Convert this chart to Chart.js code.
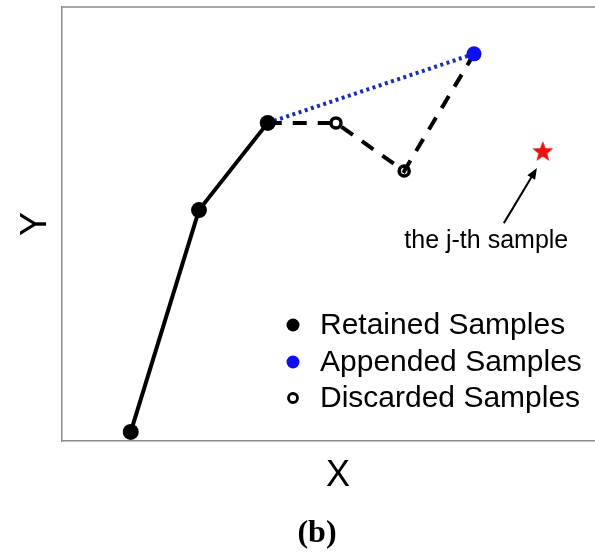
<!DOCTYPE html>
<html>
<head>
<meta charset="utf-8">
<script src="https://cdn.jsdelivr.net/npm/chart.js@4/dist/chart.umd.min.js"></script>
<style>
  html, body { margin: 0; padding: 0; background: #fff; }
  #wrap { width: 595px; height: 554px; }
</style>
</head>
<body>
<div id="wrap"><canvas id="chart-b" width="595" height="554"></canvas></div>
<script>
// sample positions (data units, axes run 0..10)
const retainedX = [1.29, 2.57, 3.86];
const retainedY = [0.21, 5.32, 7.33];
const discardedX = [5.14, 6.42];
const discardedY = [7.33, 6.22];
const appendedX = [7.73];
const appendedY = [8.92];
const jthX = [9.02];
const jthY = [6.66];
const arrowFrom = [8.29, 5.02];
const arrowTo = [8.91, 6.29];
const noteAt = [7.96, 4.45];
const noteText = 'the j-th sample';
const legendLabels = ['Retained Samples', 'Appended Samples', 'Discarded Samples'];

const FONT = "'Liberation Sans', Arial, Helvetica, sans-serif";

const pts = (xs, ys) => xs.map((x, i) => ({ x, y: ys[i] }));
const lastRetained = { x: retainedX[retainedX.length - 1], y: retainedY[retainedY.length - 1] };
const appendedPt = { x: appendedX[0], y: appendedY[0] };

// filled red star used as the point style of the j-th sample
function starImage(r) {
  const c = document.createElement('canvas');
  const s = Math.ceil(r * 2 + 2);
  c.width = s; c.height = s;
  const g = c.getContext('2d');
  g.fillStyle = '#f01010';
  g.beginPath();
  for (let i = 0; i < 10; i++) {
    const rad = i % 2 === 0 ? r : r * 0.42;
    const a = -Math.PI / 2 + i * Math.PI / 5;
    const px = s / 2 + rad * Math.cos(a), py = s / 2 + rad * Math.sin(a);
    if (i === 0) g.moveTo(px, py); else g.lineTo(px, py);
  }
  g.closePath();
  g.fill();
  return c;
}

const extras = {
  id: 'extras',
  afterDatasetsDraw(chart) {
    const { ctx, chartArea, scales: { x, y } } = chart;
    ctx.save();
    // top frame line (right side of the box is cut off)
    ctx.strokeStyle = '#8a8a8a';
    ctx.lineWidth = 1.5;
    ctx.beginPath();
    ctx.moveTo(chartArea.left, chartArea.top);
    ctx.lineTo(chart.width, chartArea.top);
    ctx.stroke();

    // arrow to the j-th sample
    const x0 = x.getPixelForValue(arrowFrom[0]), y0 = y.getPixelForValue(arrowFrom[1]);
    const x1 = x.getPixelForValue(arrowTo[0]), y1 = y.getPixelForValue(arrowTo[1]);
    const ang = Math.atan2(y1 - y0, x1 - x0);
    ctx.strokeStyle = '#000';
    ctx.fillStyle = '#000';
    ctx.lineWidth = 2;
    ctx.beginPath();
    ctx.moveTo(x0, y0);
    ctx.lineTo(x1 - 6 * Math.cos(ang), y1 - 6 * Math.sin(ang));
    ctx.stroke();
    ctx.beginPath();
    ctx.moveTo(x1, y1);
    ctx.lineTo(x1 - 11 * Math.cos(ang) + 4.5 * Math.sin(ang), y1 - 11 * Math.sin(ang) - 4.5 * Math.cos(ang));
    ctx.lineTo(x1 - 11 * Math.cos(ang) - 4.5 * Math.sin(ang), y1 - 11 * Math.sin(ang) + 4.5 * Math.cos(ang));
    ctx.closePath();
    ctx.fill();

    // annotation
    ctx.font = `25px ${FONT}`;
    ctx.textAlign = 'center';
    ctx.textBaseline = 'alphabetic';
    ctx.fillText(noteText, x.getPixelForValue(noteAt[0]), y.getPixelForValue(noteAt[1]));

    // legend inside the plot, bottom right
    const rows = [325, 362, 398];
    ctx.font = `30px ${FONT}`;
    ctx.textAlign = 'left';
    ctx.textBaseline = 'middle';
    legendLabels.forEach((lbl, i) => {
      ctx.beginPath();
      if (i === 2) {
        ctx.arc(293, rows[i], 4.5, 0, Math.PI * 2);
        ctx.lineWidth = 2.8;
        ctx.strokeStyle = '#000';
        ctx.stroke();
      } else {
        ctx.arc(293, rows[i], 6.5, 0, Math.PI * 2);
        ctx.fillStyle = i === 0 ? '#000' : '#1010ee';
        ctx.fill();
      }
      ctx.fillStyle = '#000';
      ctx.fillText(lbl, 320, rows[i] + 1);
    });

    // x axis label sits a little right of centre in the original
    ctx.font = `36px ${FONT}`;
    ctx.textAlign = 'center';
    ctx.textBaseline = 'middle';
    ctx.fillText('X', 338, 476);

    // panel caption
    ctx.font = `bold 32px 'Liberation Serif', 'Times New Roman', serif`;
    ctx.fillText('(b)', 317, 534);
    ctx.restore();
  }
};

new Chart(document.getElementById('chart-b'), {
  type: 'scatter',
  data: {
    datasets: [
      {
        label: legendLabels[0],
        data: pts(retainedX, retainedY),
        showLine: true,
        borderColor: '#000',
        borderWidth: 4,
        pointRadius: 8,
        pointBackgroundColor: '#000',
        pointBorderWidth: 0
      },
      {
        label: legendLabels[1],
        data: pts(appendedX, appendedY),
        pointRadius: 7.5,
        pointBackgroundColor: '#1010ee',
        pointBorderWidth: 0
      },
      {
        label: 'j-th sample',
        data: pts(jthX, jthY),
        pointStyle: starImage(11)
      },
      {
        label: legendLabels[2],
        data: [lastRetained, ...pts(discardedX, discardedY), appendedPt],
        showLine: true,
        borderColor: '#000',
        borderWidth: 4,
        borderDash: [14, 11],
        pointRadius: [0, 5, 5, 0],
        pointBorderColor: '#000',
        pointBorderWidth: 3.5,
        pointBackgroundColor: 'rgba(0,0,0,0)'
      },
      {
        label: 'append link',
        data: [lastRetained, appendedPt],
        showLine: true,
        borderColor: '#1a2db5',
        borderWidth: 4,
        borderDash: [3, 3.5],
        pointRadius: 0
      }
    ]
  },
  options: {
    responsive: false,
    animation: false,
    layout: { autoPadding: false, padding: { top: 7, right: 0, bottom: 0, left: 0 } },
    plugins: { legend: { display: false }, tooltip: { enabled: false } },
    scales: {
      x: {
        min: 0, max: 10,
        ticks: { display: false },
        grid: { display: false },
        border: { display: true, color: '#8a8a8a', width: 1.5 },
        title: { display: false },
        afterFit: (scale) => { scale.height = 113; }
      },
      y: {
        min: 0, max: 10,
        ticks: { display: false },
        grid: { display: false },
        border: { display: true, color: '#8a8a8a', width: 1.5 },
        title: { display: true, text: 'Y', color: '#000', font: { family: FONT, size: 36 }, padding: { top: 14, bottom: 0 } },
        afterFit: (scale) => { scale.width = 62; }
      }
    }
  },
  plugins: [extras]
});
</script>
</body>
</html>
